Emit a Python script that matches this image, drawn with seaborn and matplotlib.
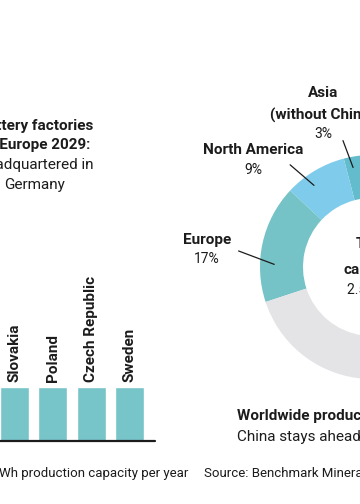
import numpy as np
import matplotlib
matplotlib.use("Agg")
import matplotlib.pyplot as plt
import seaborn as sns
import pandas as pd

sns.set_style("white")
plt.rcParams["font.family"] = ["Roboto", "DejaVu Sans"]

# bar chart data (GWh per year, visible part)
countries = ["Slovakia", "Poland", "Czech Republic", "Sweden"]
capacity_gwh = [40, 40, 40, 40]

# donut data (share of worldwide production capacity, %)
regions = ["Asia\n(without China)", "North America", "Europe", "China"]
shares = [3, 9, 17, 71]

W, H = 360, 504
BAR_COLOR = "#77c4c9"
DONUT_COLORS = ["#62bccb", "#7ecbeb", "#76c3c7", "#e4e4e7"]
INK = "#1c1c1c"


def px(x, y):
    return x / W, 1 - y / H


fig = plt.figure(figsize=(W / 100, H / 100), dpi=100)

# ---- bar chart (left) ----
ax = fig.add_axes([0, 63 / H, 155 / W, 381 / H])
df = pd.DataFrame({"country": countries, "gwh": capacity_gwh})
sns.barplot(data=df, x="country", y="gwh", color=BAR_COLOR, width=0.76,
            saturation=1, ax=ax)
ymax = max(capacity_gwh) * 381 / 54
ax.set_xlim(-0.378, 3.668)
ax.set_ylim(0, ymax)
ax.axhline(0, color=INK, lw=1.6, clip_on=False)
for i, (c, v) in enumerate(zip(countries, capacity_gwh)):
    ax.text(i, v + ymax * 5 / 381, c, rotation=90, ha="center", va="bottom",
            fontsize=11, fontweight="bold", color=INK)
ax.set_axis_off()

# ---- donut (right) ----
ax2 = fig.add_axes([(372 - 112) / W, (504 - 267 - 112) / H, 224 / W, 224 / H])
ax2.pie(shares, colors=DONUT_COLORS, startangle=93.8, counterclock=True,
        radius=1, wedgeprops=dict(width=43 / 112, linewidth=0))
ax2.set_xlim(-1, 1)
ax2.set_ylim(-1, 1)
ax2.set_aspect("equal")
ax2.set_axis_off()

# region labels with leader lines
labels = [
    # name, pct, label x, name y, pct y, line start, line end (angle, r)
    (regions[0], shares[0], 323, 93, 134, (342, 138), (100.5, 0.88)),
    (regions[1], shares[1], 253, 150, 170, (288, 163), (125, 0.87)),
    (regions[2], shares[2], 207, 240, 259, (236, 250), (179, 0.85)),
]
for name, pct, lx, ny, py, start, (ang, r) in labels:
    if "\n" in name:
        top, sub = name.split("\n")
        fig.text(*px(lx, ny), top, ha="center", va="center", fontsize=11,
                 fontweight="bold", color=INK)
        fig.text(*px(lx, ny + 22), sub, ha="center", va="center", fontsize=11,
                 fontweight="bold", color=INK)
    else:
        fig.text(*px(lx, ny), name, ha="center", va="center", fontsize=11,
                 fontweight="bold", color=INK)
    fig.text(*px(lx, py), f"{pct}%", ha="center", va="center", fontsize=10,
             color=INK)
    ex = r * np.cos(np.radians(ang))
    ey = r * np.sin(np.radians(ang))
    ax2.annotate("", xy=(ex, ey), xycoords="data",
                 xytext=px(*start), textcoords="figure fraction",
                 arrowprops=dict(arrowstyle="-", color=INK, lw=0.9))

# centre of donut
fig.text(*px(374, 244), "Total", ha="center", va="center", fontsize=11,
         fontweight="bold", color=INK)
fig.text(*px(372, 270), "capacity", ha="center", va="center", fontsize=11,
         fontweight="bold", color=INK)
fig.text(*px(372, 290), "2.5 TWh", ha="center", va="center", fontsize=10,
         color=INK)

# ---- headings and footnotes ----
fig.text(*px(93, 126), "Battery factories", ha="right", va="center",
         fontsize=11, fontweight="bold", color=INK)
fig.text(*px(90, 145), "in Europe 2029:", ha="right", va="center",
         fontsize=11, fontweight="bold", color=INK)
fig.text(*px(93, 165), "headquartered in", ha="right", va="center",
         fontsize=11, color=INK)
fig.text(*px(65, 185), "Germany", ha="right", va="center",
         fontsize=11, color=INK)

fig.text(*px(237, 416), "Worldwide production capacity 2030:", ha="left",
         va="center", fontsize=11, fontweight="bold", color=INK)
fig.text(*px(237, 437), "China stays ahead", ha="left", va="center",
         fontsize=11, color=INK)

fig.text(*px(188, 473), "In GWh production capacity per year", ha="right",
         va="center", fontsize=9.5, color=INK)
fig.text(*px(204, 473), "Source: Benchmark Mineral Intelligence", ha="left",
         va="center", fontsize=9.5, color=INK)

fig.savefig("out.png", dpi=100, facecolor="white")
